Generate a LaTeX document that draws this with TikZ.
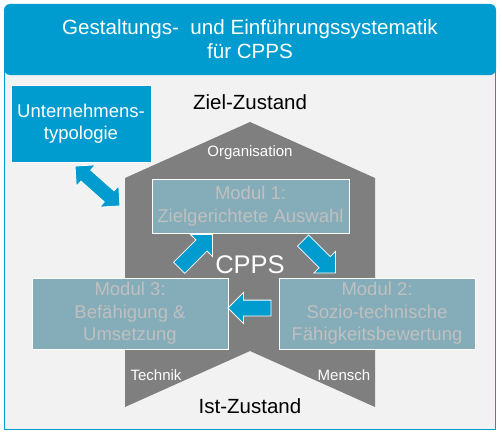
\documentclass[tikz,border=0pt]{standalone}
\usepackage{fontspec}
\setmainfont{Liberation Sans}
\usepackage{xcolor}
\usetikzlibrary{shapes.arrows}
\definecolor{cppsblue}{RGB}{0,155,207}
\definecolor{modfill}{RGB}{132,172,185}
\definecolor{modtext}{RGB}{192,192,192}
\definecolor{hexgray}{RGB}{127,127,127}
\definecolor{bodygray}{RGB}{242,242,242}

\begin{document}
\begin{tikzpicture}[x=1pt,y=-1pt,
  modbox/.style={draw=white,fill=modfill,text=modtext,align=center,inner sep=0pt,
    font=\fontsize{18.5}{22.5}\selectfont},
  blkarrow/.style={single arrow,draw=white,fill=cppsblue,line width=0.8pt,inner xsep=0pt,
    inner ysep=7.5pt,single arrow head extend=7.5pt},
  lbl/.style={text=white,font=\fontsize{15}{18}\selectfont}]
\useasboundingbox (0,0) rectangle (502,436);
% frame and title
\draw[fill=bodygray,draw=cppsblue,line width=1.3pt] (4.5,60) rectangle (495.5,429.5);
\node[fill=cppsblue,rounded corners=6pt,minimum width=492pt,minimum height=71pt,
  text=white,align=center,font=\fontsize{20.6}{24}\selectfont]
  (title) at (250,39.5) {Gestaltungs-\ \ und Einführungssystematik\\für CPPS};
% company type
\node[draw=white,fill=cppsblue,text=white,align=center,minimum width=140pt,minimum height=77pt,
  inner sep=0pt,font=\fontsize{18.5}{21.5}\selectfont]
  (typ) at (81,123.5) {Unternehmens-\\typologie};
% target / current state
\node[font=\fontsize{20.5}{24}\selectfont] (ziel) at (250,102) {Ziel-Zustand};
\node[font=\fontsize{20.5}{24}\selectfont] (ist) at (250,406) {Ist-Zustand};
% CPPS shape
\fill[hexgray] (125,178) -- (250,122) -- (375,178) -- (375,407) -- (250,351) -- (125,407) -- cycle;
\node[lbl] (org) at (250,153) {Organisation};
\node[lbl] (tech) at (156,375) {Technik};
\node[lbl] (mensch) at (344,375) {Mensch};
\node[text=white,font=\fontsize{25.5}{30}\selectfont] (cpps) at (250,265) {CPPS};
% modules
\node[modbox,minimum width=197pt,minimum height=54pt] (m1) at (250.5,206) {Modul 1:\\Zielgerichtete Auswahl};
\node[modbox,minimum width=196pt,minimum height=71pt] (m2) at (377,313.5) {Modul 2:\\Sozio-technische\\Fähigkeitsbewertung};
\node[modbox,minimum width=196pt,minimum height=71pt] (m3) at (130,313.5) {Modul 3:\\Befähigung \&\\Umsetzung};
% block arrows
\node[blkarrow,minimum height=47pt,rotate=45] (a31) at (193,254) {};
\node[blkarrow,minimum height=46pt,rotate=-45] (a12) at (316.5,254) {};
\node[blkarrow,minimum height=43pt,rotate=180] (a23) at (253.5,308) {};
\node[double arrow,draw=white,fill=cppsblue,line width=0.8pt,inner xsep=0pt,inner ysep=7pt,
  double arrow head extend=7pt,minimum height=60pt,rotate=-41.6] (atyp) at (97.5,186) {};
\end{tikzpicture}
\end{document}
